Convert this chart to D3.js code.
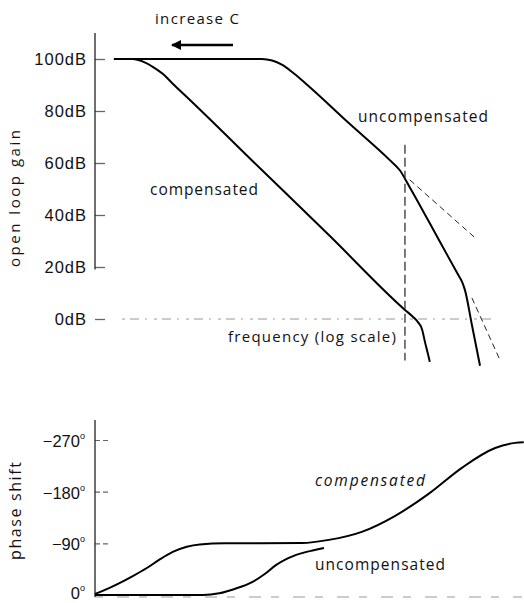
<!DOCTYPE html>
<html>
<head>
<meta charset="utf-8">
<script src="https://cdn.jsdelivr.net/npm/d3@7"></script>
<style>
  body { margin: 0; background: #fff; }
  svg { display: block; }
  .tick text { font-family: "Liberation Sans", Arial, sans-serif; fill: #111; }
  .lbl { font-family: "Open Sans", "DejaVu Sans", sans-serif; fill: #111; }
</style>
</head>
<body>
<svg id="chart" width="524" height="603"></svg>
<script>
// frequency is given in decades (log10 f), gain in dB, phase in degrees
var gainTicks = [0, 20, 40, 60, 80, 100];
var phaseTicks = [0, -90, -180, -270];

var uncompGainF = [0.35, 2.90, 3.09, 3.28, 3.46, 3.65, 3.89, 4.72, 5.45, 5.645, 5.82, 6.39, 6.72, 6.80, 6.85, 6.98, 7.13];
var uncompGainDb = [100, 100, 100, 99.4, 97.8, 95, 90.8, 75, 61.3, 57.2, 51, 29.6, 17.2, 14.2, 11.2, -2.3, -18];

var compGainF = [0.35, 0.55, 0.70, 0.89, 1.07, 1.26, 1.44, 1.70, 3.09, 4.35, 5.74, 5.89, 5.98, 6.06, 6.11, 6.17, 6.20];
var compGainDb = [100, 100, 100, 99, 97, 94.2, 90.5, 85.4, 57.3, 31.9, 3.5, 0.8, -1.2, -4.2, -8.8, -13.8, -16.5];

var asym1F = [5.83, 7.04];
var asym1Db = [53.5, 31.2];
var asym2F = [6.98, 7.50];
var asym2Db = [8.1, -15.8];

var crossF = 5.74;
var crossDb = [67, -16];

var compPhaseF = [0, 0.28, 0.70, 0.96, 1.20, 1.44, 1.70, 1.94, 2.40, 3.06, 3.83, 4.33, 4.94, 5.56, 6.19, 6.80, 7.41, 7.78, 7.94];
var compPhaseDeg = [-2, -13, -33, -47, -62, -75, -84, -88, -90, -90, -90.5, -96, -110, -138, -177, -222, -256, -265, -266];

var uncompPhaseF = [0, 2.00, 2.30, 2.60, 2.90, 3.15, 3.35, 3.55, 3.80, 4.05, 4.24];
var uncompPhaseDeg = [0, 0, -3, -11, -22, -37, -52, -63, -72, -78, -82];

var svg = d3.select("#chart");

var x = d3.scaleLinear().domain([0, 7.5]).range([95, 500]);
var yGain = d3.scaleLinear().domain([0, 100]).range([319, 59]);
var yPhase = d3.scaleLinear().domain([0, -270]).range([595, 440]);

function pts(fs, vs) {
    return fs.map(function (f, i) { return [f, vs[i]]; });
}

// ---- upper panel: open loop gain ----
var gTop = svg.append("g");

// 0dB reference line (faint, broken)
gTop.append("line")
    .attr("x1", x(0.5)).attr("x2", x(7.4))
    .attr("y1", yGain(0)).attr("y2", yGain(0))
    .attr("stroke", "#9a9a9a").attr("stroke-width", 1.2)
    .attr("stroke-dasharray", "3,5,9,6,2,7");

var gainAxis = d3.axisLeft(yGain)
    .tickValues(gainTicks)
    .tickSizeInner(-10)
    .tickSizeOuter(0)
    .tickPadding(8)
    .tickFormat(function (d) { return d + "dB"; });

var ga = gTop.append("g")
    .attr("transform", "translate(" + x(0) + ",0)")
    .call(gainAxis);
ga.select(".domain").remove();
ga.selectAll(".tick line").attr("stroke", "#666").attr("stroke-width", 1.3);
ga.selectAll(".tick text")
    .attr("font-size", 16.5).attr("dy", "0.36em")
    .attr("letter-spacing", "1px");

gTop.append("line")
    .attr("x1", x(0)).attr("x2", x(0))
    .attr("y1", yGain(110)).attr("y2", yGain(19))
    .attr("stroke", "#222").attr("stroke-width", 1.3);

var gainLine = d3.line()
    .x(function (d) { return x(d[0]); })
    .y(function (d) { return yGain(d[1]); })
    .curve(d3.curveMonotoneX);

gTop.append("path")
    .datum(pts(uncompGainF, uncompGainDb))
    .attr("d", gainLine)
    .attr("fill", "none").attr("stroke", "#000").attr("stroke-width", 2);

gTop.append("path")
    .datum(pts(compGainF, compGainDb))
    .attr("d", gainLine)
    .attr("fill", "none").attr("stroke", "#000").attr("stroke-width", 2);

[pts(asym1F, asym1Db), pts(asym2F, asym2Db)].forEach(function (seg) {
    gTop.append("path")
        .datum(seg)
        .attr("d", d3.line()
            .x(function (d) { return x(d[0]); })
            .y(function (d) { return yGain(d[1]); }))
        .attr("fill", "none").attr("stroke", "#222").attr("stroke-width", 1)
        .attr("stroke-dasharray", "6,4");
});

gTop.append("line")
    .attr("x1", x(crossF)).attr("x2", x(crossF))
    .attr("y1", yGain(crossDb[0])).attr("y2", yGain(crossDb[1]))
    .attr("stroke", "#222").attr("stroke-width", 1.2)
    .attr("stroke-dasharray", "9,4");

// arrow "increase C"
svg.append("defs").append("marker")
    .attr("id", "arrow")
    .attr("viewBox", "0 0 10 10")
    .attr("refX", 9).attr("refY", 5)
    .attr("markerWidth", 5).attr("markerHeight", 4)
    .attr("orient", "auto")
    .append("path").attr("d", "M0,0 L10,5 L0,10 Z").attr("fill", "#000");

gTop.append("line")
    .attr("x1", 233).attr("y1", 45).attr("x2", 172).attr("y2", 45)
    .attr("stroke", "#000").attr("stroke-width", 2.5)
    .attr("marker-end", "url(#arrow)");

gTop.append("text").attr("class", "lbl")
    .attr("x", 155).attr("y", 24).attr("font-size", 15)
    .attr("textLength", 84).text("increase C");

gTop.append("text").attr("class", "lbl")
    .attr("x", 358).attr("y", 122).attr("font-size", 15.5)
    .attr("textLength", 130).text("uncompensated");

gTop.append("text").attr("class", "lbl")
    .attr("x", 150).attr("y", 195).attr("font-size", 15.5)
    .attr("textLength", 108).text("compensated");

gTop.append("text").attr("class", "lbl")
    .attr("x", 228).attr("y", 342).attr("font-size", 15)
    .attr("textLength", 168).text("frequency (log scale)");

gTop.append("text").attr("class", "lbl")
    .attr("transform", "translate(20,267) rotate(-90)")
    .attr("font-size", 15)
    .attr("textLength", 137)
    .text("open loop gain");

// ---- lower panel: phase shift ----
var gBot = svg.append("g");

gBot.append("line")
    .attr("x1", x(0)).attr("x2", 522)
    .attr("y1", yPhase(0) + 2).attr("y2", yPhase(0) + 2)
    .attr("stroke", "#9a9a9a").attr("stroke-width", 1.2)
    .attr("stroke-dasharray", "8,14,12,10");

var phaseAxis = d3.axisLeft(yPhase)
    .tickValues(phaseTicks)
    .tickSizeInner(-13)
    .tickSizeOuter(0)
    .tickPadding(10)
    .tickFormat(function (d) { return d === 0 ? "0" : "\u2212" + Math.abs(d); });

var pa = gBot.append("g")
    .attr("transform", "translate(" + x(0) + ",0)")
    .call(phaseAxis);
pa.select(".domain").remove();
pa.selectAll(".tick line")
    .attr("stroke", "#666").attr("stroke-width", 1.2)
    .attr("stroke-dasharray", function (d) { return d === 0 ? null : "5,3"; });
pa.selectAll(".tick text")
    .attr("font-size", 16.5).attr("dy", function (d) { return d === 0 ? "0.2em" : "0.4em"; })
    .append("tspan")
    .attr("font-size", 9).attr("dy", "-0.9em")
    .text("o");

gBot.append("line")
    .attr("x1", x(0)).attr("x2", x(0))
    .attr("y1", 420).attr("y2", yPhase(0) + 2)
    .attr("stroke", "#222").attr("stroke-width", 1.3);

var phaseLine = d3.line()
    .x(function (d) { return x(d[0]); })
    .y(function (d) { return yPhase(d[1]); })
    .curve(d3.curveMonotoneX);

gBot.append("path")
    .datum(pts(compPhaseF, compPhaseDeg))
    .attr("d", phaseLine)
    .attr("fill", "none").attr("stroke", "#000").attr("stroke-width", 2);

gBot.append("path")
    .datum(pts(uncompPhaseF, uncompPhaseDeg))
    .attr("d", phaseLine)
    .attr("fill", "none").attr("stroke", "#000").attr("stroke-width", 2);

gBot.append("text").attr("class", "lbl")
    .attr("x", 315).attr("y", 486).attr("font-size", 15.5)
    .attr("font-style", "italic")
    .attr("textLength", 110).text("compensated");

gBot.append("text").attr("class", "lbl")
    .attr("x", 315).attr("y", 570).attr("font-size", 15.5)
    .attr("textLength", 130).text("uncompensated");

gBot.append("text").attr("class", "lbl")
    .attr("transform", "translate(21,560) rotate(-90)")
    .attr("font-size", 16)
    .attr("textLength", 98)
    .text("phase shift");
</script>
</body>
</html>
